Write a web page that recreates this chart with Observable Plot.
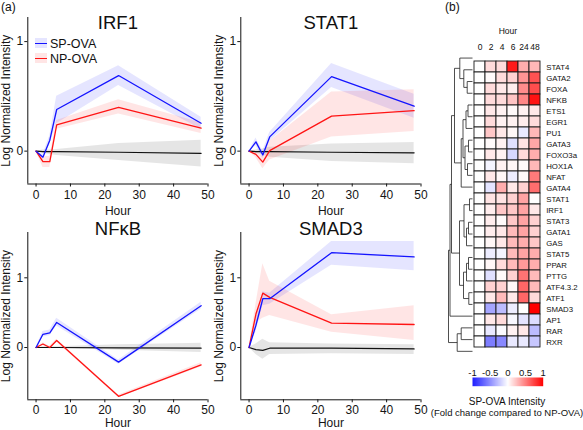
<!DOCTYPE html>
<html><head><meta charset="utf-8">
<script src="https://cdn.jsdelivr.net/npm/d3@7"></script>
<script src="https://cdn.jsdelivr.net/npm/@observablehq/plot@0.6"></script>
<style>
body{margin:0;background:#fff;font-family:"Liberation Sans",Arial,sans-serif;}
#fig{position:relative;width:583px;height:430px;overflow:hidden;background:#fff;color:#111}
.abs{position:absolute}
.lg{position:absolute;font-size:12.5px;line-height:12px;white-space:nowrap}
.sw{position:absolute;width:12px;height:10px}
.ln{position:absolute;width:12px;height:1.5px}
</style></head><body><div id="fig"></div>
<script>
// ---------- data ----------
const hours = [0, 2, 4, 6, 24, 48];
const xTicks = [0, 10, 20, 30, 40, 50];
const yTicks = [0, 1];
const seriesNames = ["SP-OVA", "NP-OVA"];

// IRF1
const irf1Sp    = [0, -0.055, 0.10, 0.38, 0.69, 0.255];
const irf1SpLo  = [0, -0.08, 0.06, 0.25, 0.60, 0.20];
const irf1SpHi  = [0, -0.03, 0.14, 0.50, 0.78, 0.31];
const irf1Np    = [0, -0.095, -0.095, 0.24, 0.40, 0.21];
const irf1NpLo  = [0, -0.15, -0.15, 0.20, 0.34, 0.16];
const irf1NpHi  = [0, -0.05, -0.05, 0.28, 0.47, 0.26];
const irf1Ctl   = [0, -0.005, -0.005, -0.005, -0.01, -0.02];
const irf1CtlLo = [0, -0.02, -0.03, -0.04, -0.085, -0.145];
const irf1CtlHi = [0, 0.01, 0.01, 0.015, 0.07, 0.10];

// STAT1
const stat1Sp    = [0, 0.085, -0.035, 0.13, 0.68, 0.41];
const stat1SpLo  = [0, 0.05, -0.07, 0.09, 0.58, 0.30];
const stat1SpHi  = [0, 0.12, 0.0, 0.17, 0.80, 0.52];
const stat1Np    = [0, -0.03, -0.10, 0.005, 0.32, 0.37];
const stat1NpLo  = [0, -0.06, -0.16, -0.08, 0.13, 0.18];
const stat1NpHi  = [0, 0.0, -0.05, 0.09, 0.54, 0.56];
const stat1Ctl   = [0, -0.005, -0.005, -0.005, -0.01, -0.015];
const stat1CtlLo = [0, -0.02, -0.035, -0.055, -0.095, -0.115];
const stat1CtlHi = [0, 0.01, 0.02, 0.035, 0.065, 0.08];

// NFkB
const nfkbSp    = [0, 0.19, 0.21, 0.36, -0.21, 0.60];
const nfkbSpLo  = [0, 0.15, 0.17, 0.31, -0.24, 0.55];
const nfkbSpHi  = [0, 0.23, 0.25, 0.42, -0.18, 0.65];
const nfkbNp    = [0, 0.05, 0.0, 0.10, -0.70, -0.25];
const nfkbNpLo  = [0, 0.03, -0.02, 0.08, -0.72, -0.28];
const nfkbNpHi  = [0, 0.07, 0.02, 0.12, -0.68, -0.22];
const nfkbCtl   = [0, 0, 0, 0, -0.005, -0.01];
const nfkbCtlLo = [0, -0.01, -0.01, -0.01, -0.04, -0.07];
const nfkbCtlHi = [0, 0.01, 0.01, 0.01, 0.04, 0.06];

// SMAD3
const smad3Sp    = [0, 0.32, 0.70, 0.70, 1.36, 1.30];
const smad3SpLo  = [0, 0.22, 0.60, 0.62, 1.18, 1.10];
const smad3SpHi  = [0, 0.42, 0.80, 0.78, 1.52, 1.52];
const smad3Np    = [0, 0.48, 0.78, 0.72, 0.35, 0.33];
const smad3NpLo  = [0, 0.35, 0.42, 0.46, 0.22, 0.10];
const smad3NpHi  = [0, 0.62, 1.20, 0.95, 0.47, 0.60];
const smad3Ctl   = [0, -0.03, -0.04, -0.01, -0.01, -0.02];
const smad3CtlLo = [0, -0.10, -0.17, -0.10, -0.09, -0.10];
const smad3CtlHi = [0, 0.05, 0.12, 0.07, 0.05, 0.04];

// heatmap
const hmCols = ["0", "2", "4", "6", "24", "48"];
const hmRows = ["STAT4","GATA2","FOXA","NFKB","ETS1","EGR1","PU1","GATA3","FOXO3a","HOX1A","NFAT","GATA4",
  "STAT1","IRF1","STAT3","GATA1","GAS","STAT5","PPAR","PTTG","ATF4.3.2","ATF1","SMAD3","AP1","RAR","RXR"];
const hmVals = [
  [0, 0.14, 0.14, 0.90, 0.32, 0.28],
  [0, 0.02, 0.14, 0.18, 0.42, 0.68],
  [0, 0.14, 0.09, 0.07, 0.45, 0.70],
  [0, 0.14, 0.14, 0.23, 0.47, 0.93],
  [0, 0.09, 0.05, 0.02, 0.05, 0.09],
  [0, 0.14, 0.05, 0.05, 0.07, 0.14],
  [0, 0.22, 0.09, 0.03, -0.10, 0.28],
  [0, 0.02, 0.05, -0.14, 0.11, 0.35],
  [0, 0.09, 0.05, -0.18, 0.14, 0.32],
  [0, -0.05, 0.05, 0.03, 0.02, 0.28],
  [0, 0.09, 0.03, -0.08, 0.02, 0.52],
  [0, -0.12, 0.32, 0.09, 0.18, 0.57],
  [0, 0.11, 0.11, 0.18, 0.36, 0.0],
  [0, 0.07, 0.22, 0.22, 0.36, 0.09],
  [0, 0.07, 0.02, 0.22, 0.36, 0.18],
  [0, 0.07, 0.09, 0.27, 0.36, 0.18],
  [0, 0.03, 0.09, 0.27, 0.32, 0.22],
  [0, -0.08, -0.05, 0.27, 0.36, 0.32],
  [0, 0.03, 0.14, 0.27, 0.40, 0.32],
  [0, -0.14, 0.02, 0.18, 0.55, 0.27],
  [0, 0.18, 0.18, 0.03, 0.60, 0.27],
  [0, 0.09, 0.27, 0.09, 0.60, 0.14],
  [0, -0.40, -0.30, -0.08, 0.0, 1.0],
  [0, 0.09, 0.14, -0.03, -0.12, -0.15],
  [0, -0.10, -0.02, 0.05, 0.09, -0.30],
  [0, -0.58, -0.53, -0.10, -0.10, -0.25]
];
const colorTicks = [-1, -0.5, 0, 0.5, 1];

// dendrogram: [left, right, mergeHeight]
const dendroA  = ["STAT4", ["GATA2", ["FOXA", "NFKB", 5.3], 8.7], 12.7];
const dendroB  = [[[["ETS1", "EGR1", 4.5], "PU1", 6.5], [["GATA3", "FOXO3a", 4], ["HOX1A", "NFAT", 5], 7.5], 9.5], "GATA4", 11.3];
const dendroC1 = [["STAT1", "IRF1", 3], [["STAT3", "GATA1", 4], "GAS", 6], 8.5];
const dendroC2 = [[["STAT5", "PPAR", 4], "PTTG", 6], ["ATF4.3.2", "ATF1", 3.7], 9];
const dendroD  = [["AP1", "RAR", 11.3], "RXR", 15.3];
const dendroTree = [[[[dendroA, dendroB, 18], [dendroC1, dendroC2, 13], 21], "SMAD3", 22.5], dendroD, 24];

// ---------- layout helpers ----------
const fig = document.getElementById("fig");
const FONT = "Liberation Sans, Arial, sans-serif";
function place(el, left, top) {
  el.style.position = "absolute"; el.style.left = left + "px"; el.style.top = top + "px";
  fig.appendChild(el);
}
function addText(txt, left, top, css) {
  const d = document.createElement("div");
  d.textContent = txt; d.className = "abs";
  d.style.left = left + "px"; d.style.top = top + "px";
  Object.assign(d.style, css || {});
  fig.appendChild(d); return d;
}

const xDomain = [-2.4, 50];
function panel(o) {
  const rows = hours.map((h, i) => ({
    h, sp: o.sp[i], spLo: o.spLo[i], spHi: o.spHi[i],
    np: o.np[i], npLo: o.npLo[i], npHi: o.npHi[i],
    ctl: o.ctl[i], ctlLo: o.ctlLo[i], ctlHi: o.ctlHi[i]
  }));
  const p = Plot.plot({
    width: 212, height: o.height,
    marginLeft: 27.3, marginRight: 4.5, marginTop: o.mt, marginBottom: o.mb,
    x: {domain: xDomain},
    y: {domain: o.yDomain},
    style: {fontFamily: FONT, fontSize: "12px", background: "transparent", overflow: "visible", color: "#151515"},
    marks: [
      Plot.areaY(rows, {x: "h", y1: "ctlLo", y2: "ctlHi", fill: "#000", fillOpacity: 0.1}),
      Plot.areaY(rows, {x: "h", y1: "spLo", y2: "spHi", fill: "#0000ff", fillOpacity: 0.1}),
      Plot.areaY(rows, {x: "h", y1: "npLo", y2: "npHi", fill: "#ff0000", fillOpacity: 0.1}),
      Plot.lineY(rows, {x: "h", y: "ctl", stroke: "#111", strokeWidth: 1.2}),
      Plot.lineY(rows, {x: "h", y: "np", stroke: "#ff1414", strokeWidth: 1.3}),
      Plot.lineY(rows, {x: "h", y: "sp", stroke: "#1414ff", strokeWidth: 1.3}),
      Plot.ruleX([xDomain[0]], {stroke: "#111", strokeWidth: 1}),
      Plot.ruleY([o.yDomain[0]], {stroke: "#111", strokeWidth: 1}),
      Plot.axisX({ticks: xTicks, tickSize: 3, tickPadding: 3, tickFormat: d => String(d), label: "Hour", labelAnchor: "center", labelArrow: "none", labelOffset: o.xLabelOffset}),
      Plot.axisY({ticks: yTicks, tickSize: 3, tickPadding: 1.5, tickFormat: d => String(d), label: "Log Normalized Intensity", labelAnchor: "center", labelArrow: "none", labelOffset: 26.3}),
      Plot.text([o.title], {text: d => d, frameAnchor: "top", lineAnchor: "middle", dy: o.titleDy, fontSize: 18.5, fill: "#111"})
    ]
  });
  place(p, o.left, o.top);
}

const topY = [-0.3, 1.22], botY = [-0.75, 1.65];
panel({title: "IRF1", left: 0, top: 0, height: 216, mt: 17, mb: 32.5, yDomain: topY, titleDy: 6, xLabelOffset: 31,
  sp: irf1Sp, spLo: irf1SpLo, spHi: irf1SpHi, np: irf1Np, npLo: irf1NpLo, npHi: irf1NpHi, ctl: irf1Ctl, ctlLo: irf1CtlLo, ctlHi: irf1CtlHi});
panel({title: "STAT1", left: 213.4, top: 0, height: 216, mt: 17, mb: 32.5, yDomain: topY, titleDy: 6, xLabelOffset: 31,
  sp: stat1Sp, spLo: stat1SpLo, spHi: stat1SpHi, np: stat1Np, npLo: stat1NpLo, npHi: stat1NpHi, ctl: stat1Ctl, ctlLo: stat1CtlLo, ctlHi: stat1CtlHi});
panel({title: "NFκB", left: 0, top: 200, height: 229, mt: 32, mb: 29.7, yDomain: botY, titleDy: -3, xLabelOffset: 27,
  sp: nfkbSp, spLo: nfkbSpLo, spHi: nfkbSpHi, np: nfkbNp, npLo: nfkbNpLo, npHi: nfkbNpHi, ctl: nfkbCtl, ctlLo: nfkbCtlLo, ctlHi: nfkbCtlHi});
panel({title: "SMAD3", left: 213.4, top: 200, height: 229, mt: 32, mb: 29.7, yDomain: botY, titleDy: -3, xLabelOffset: 27,
  sp: smad3Sp, spLo: smad3SpLo, spHi: smad3SpHi, np: smad3Np, npLo: smad3NpLo, npHi: smad3NpHi, ctl: smad3Ctl, ctlLo: smad3CtlLo, ctlHi: smad3CtlHi});

// legend (inside IRF1 panel)
const lgColors = [["#1414ff", "rgba(0,0,255,0.1)"], ["#ff1414", "rgba(255,0,0,0.1)"]];
seriesNames.forEach((name, i) => {
  const top = 38 + i * 15;
  const sw = document.createElement("div"); sw.className = "sw"; sw.style.background = lgColors[i][1];
  place(sw, 35, top);
  const ln = document.createElement("div"); ln.className = "ln"; ln.style.background = lgColors[i][0];
  place(ln, 35, top + 4.5);
  const t = document.createElement("div"); t.className = "lg"; t.textContent = name;
  place(t, 50, top - 0.5);
});

// panel tags
addText("(a)", 1, 0, {fontSize: "12px"});
addText("(b)", 445, 0, {fontSize: "12px"});

// ---------- heatmap ----------
const colorScale = {type: "linear", domain: [-1, 0, 1], range: ["#1e1eff", "#ffffff", "#ff0000"]};
const cells = hmRows.flatMap((r, i) => hmCols.map((c, j) => ({r, c, v: hmVals[i][j]})));
const hm = Plot.plot({
  width: 183, height: 360,
  marginLeft: 72, marginRight: 40.3, marginTop: 51.7, marginBottom: 3.3,
  x: {domain: hmCols, padding: 0},
  y: {domain: hmRows, padding: 0},
  color: colorScale,
  style: {fontFamily: FONT, fontSize: "8px", background: "transparent", overflow: "visible", color: "#111"},
  marks: [
    Plot.cell(cells, {x: "c", y: "r", fill: "v", stroke: "#1a1a1a", strokeWidth: 0.9}),
    Plot.axisX({anchor: "top", tickSize: 0, tickPadding: 2.5, fontSize: 8.5, label: "Hour", labelAnchor: "center", labelArrow: "none", labelOffset: 24}),
    Plot.axisY({anchor: "right", tickSize: 0, tickPadding: 3, fontSize: 7.8, label: null})
  ]
});
place(hm, 400, 0);

// dendrogram
const leafIndex = new Map(hmRows.map((r, i) => [r, i + 0.5]));
const links = [];
function walk(n) {
  if (typeof n === "string") return {h: 0, y: leafIndex.get(n)};
  const a = walk(n[0]), b = walk(n[1]), h = n[2];
  links.push({x1: a.h, y1: a.y, x2: h, y2: a.y});
  links.push({x1: b.h, y1: b.y, x2: h, y2: b.y});
  links.push({x1: h, y1: a.y, x2: h, y2: b.y});
  return {h, y: (a.y + b.y) / 2};
}
walk(dendroTree);
const dg = Plot.plot({
  width: 32, height: 360,
  marginLeft: 0, marginRight: 0, marginTop: 51.7, marginBottom: 3.3,
  x: {domain: [32, 0], axis: null},
  y: {domain: [0, hmRows.length], reverse: true, axis: null},
  style: {background: "transparent", overflow: "visible"},
  marks: [Plot.link(links, {x1: "x1", y1: "y1", x2: "x2", y2: "y2", stroke: "#222", strokeWidth: 0.8})]
});
place(dg, 440, 0);

// color bar
const cb = Plot.plot({
  width: 183, height: 35,
  marginLeft: 72, marginRight: 40.3, marginTop: 22, marginBottom: 4.3,
  x: {domain: [-1, 1]},
  y: {domain: [0, 1], axis: null},
  color: colorScale,
  style: {fontFamily: FONT, fontSize: "9.5px", background: "transparent", overflow: "visible", color: "#111"},
  marks: [
    Plot.raster({x1: -1, x2: 1, y1: 0, y2: 1, fill: (x, y) => x}),
    Plot.axisX({anchor: "top", ticks: colorTicks, tickSize: 0, tickPadding: 2, tickFormat: d => String(d), label: null})
  ]
});
place(cb, 400, 355);

addText("SP-OVA Intensity", 407, 395.5, {width: "200px", textAlign: "center", fontSize: "10px"});
addText("(Fold change compared to NP-OVA)", 407, 407, {width: "200px", textAlign: "center", fontSize: "9.5px"});
</script></body></html>
